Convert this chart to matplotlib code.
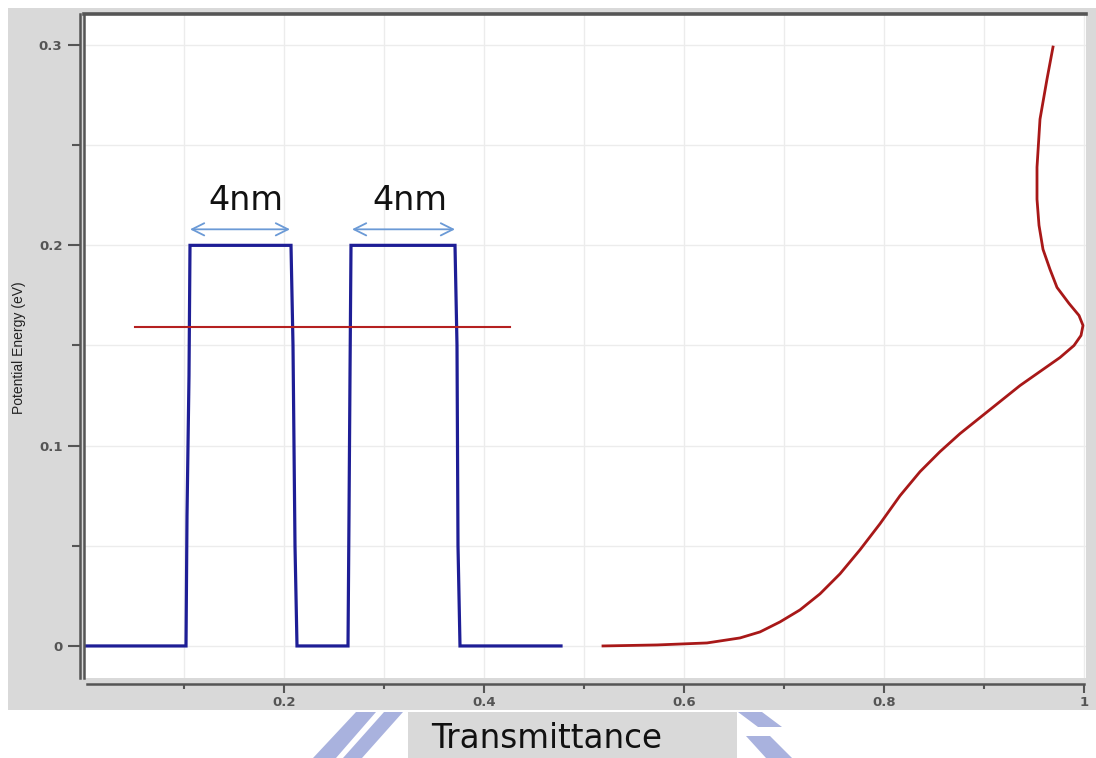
import matplotlib
matplotlib.use("Agg")
import matplotlib.pyplot as plt
from matplotlib.patches import Rectangle, Polygon
from matplotlib.ticker import FixedLocator, FixedFormatter

# Double-barrier potential profile (position, energy)
pot_x = [0.002, 0.102, 0.103, 0.105, 0.106, 0.207, 0.209, 0.211, 0.213,
         0.264, 0.265, 0.266, 0.267, 0.371, 0.373, 0.374, 0.376, 0.477]
pot_y = [0.0, 0.0, 0.065, 0.135, 0.2, 0.2, 0.15, 0.05, 0.0,
         0.0, 0.065, 0.135, 0.2, 0.2, 0.15, 0.05, 0.0, 0.0]

# Resonant level
level_x = [0.051, 0.426]
level_y = [0.159, 0.159]

# Transmittance versus energy
trans_t = [0.519, 0.573, 0.623, 0.656, 0.676, 0.696, 0.716, 0.736, 0.756, 0.776,
           0.796, 0.816, 0.836, 0.856, 0.876, 0.896, 0.916, 0.936, 0.956, 0.976,
           0.990, 0.997, 0.999, 0.995, 0.985, 0.973, 0.966, 0.959, 0.955, 0.953,
           0.953, 0.956, 0.963, 0.969]
trans_e = [0.0, 0.0005, 0.0015, 0.004, 0.007, 0.012, 0.018, 0.026, 0.036, 0.048,
           0.061, 0.075, 0.087, 0.097, 0.106, 0.114, 0.122, 0.130, 0.137, 0.144,
           0.150, 0.155, 0.160, 0.165, 0.171, 0.179, 0.188, 0.198, 0.210, 0.223,
           0.239, 0.263, 0.283, 0.299]

x_major = [0.2, 0.4, 0.6, 0.8, 1.0]
x_major_labels = ["0.2", "0.4", "0.6", "0.8", "1"]
x_minor = [0.1, 0.3, 0.5, 0.7, 0.9]
y_major = [0.0, 0.1, 0.2, 0.3]
y_major_labels = ["0", "0.1", "0.2", "0.3"]
y_minor = [0.05, 0.15, 0.25]

width_labels = ["4nm", "4nm"]
width_spans = [(0.106, 0.206), (0.268, 0.371)]

W, H = 1096, 758
fig = plt.figure(figsize=(W / 100, H / 100), dpi=100)
fig.patch.set_facecolor("white")


def fx(px):
    return px / W


def fy(py):
    return 1 - py / H


# Decorative emblem strokes below the panel
wm = "#a9b2de"
for pts in ([(313, 758), (336, 758), (376, 712), (356, 712)],
            [(343, 758), (362, 758), (403, 712), (384, 712)],
            [(738, 712), (762, 712), (782, 727), (758, 727)],
            [(746, 736), (770, 736), (792, 758), (766, 758)]):
    fig.patches.append(Polygon([(fx(a), fy(b)) for a, b in pts], closed=True,
                               transform=fig.transFigure, facecolor=wm,
                               edgecolor="none", zorder=-2))

# Gray panel behind the chart
fig.patches.append(Rectangle((fx(8), fy(710)), fx(1096) - fx(8), fy(8) - fy(710),
                             transform=fig.transFigure, facecolor="#d9d9d9",
                             edgecolor="none", zorder=-1))

# Axis title box
fig.patches.append(Rectangle((fx(408), fy(758)), fx(737) - fx(408), fy(712) - fy(758),
                             transform=fig.transFigure, facecolor="#d9d9d9",
                             edgecolor="none", zorder=-1))
fig.text(fx(547), fy(738), "Transmittance", ha="center", va="center",
         fontsize=23.5, color="#111111", family="DejaVu Sans")

ax = fig.add_axes([fx(84), fy(678), fx(1086) - fx(84), fy(14) - fy(678)])
ax.set_facecolor("white")
ax.set_xlim(0, 1.002)
ax.set_ylim(-0.016, 0.3155)

spine_c = "#555555"
ax.spines["right"].set_visible(False)
ax.spines["top"].set_color(spine_c)
ax.spines["top"].set_linewidth(2.6)
ax.spines["left"].set_color(spine_c)
ax.spines["left"].set_linewidth(1.8)
ax.spines["left"].set_position(("outward", 3))
ax.spines["bottom"].set_color(spine_c)
ax.spines["bottom"].set_linewidth(1.8)
ax.spines["bottom"].set_position(("outward", 4.5))
ax.spines["bottom"].set_bounds(0.003, 1.0)
ax.plot([0, 0], [0, 1], transform=ax.transAxes, color=spine_c, lw=1.8,
        clip_on=False, zorder=5)

ax.xaxis.set_major_locator(FixedLocator(x_major))
ax.xaxis.set_major_formatter(FixedFormatter(x_major_labels))
ax.xaxis.set_minor_locator(FixedLocator(x_minor))
ax.yaxis.set_major_locator(FixedLocator(y_major))
ax.yaxis.set_major_formatter(FixedFormatter(y_major_labels))
ax.yaxis.set_minor_locator(FixedLocator(y_minor))

ax.tick_params(axis="x", which="major", length=6.5, width=1.5, color=spine_c,
               pad=2, labelsize=9.5, labelcolor="#555555")
ax.tick_params(axis="x", which="minor", length=3.5, width=1.5, color=spine_c)
ax.tick_params(axis="y", which="major", length=8.5, width=1.5, color=spine_c,
               pad=4, labelsize=9.5, labelcolor="#555555")
ax.tick_params(axis="y", which="minor", length=5.5, width=1.5, color=spine_c)
for lab in ax.get_xticklabels() + ax.get_yticklabels():
    lab.set_fontweight("bold")

ax.grid(True, which="both", color="#ececec", lw=1.0, zorder=0)
ax.set_axisbelow(True)

fig.text(fx(19), fy(348), "Potential Energy (eV)", rotation=90, ha="center",
         va="center", fontsize=10, color="#222222", family="Liberation Sans")

ax.plot(pot_x, pot_y, color="#1e1e96", lw=2.3, solid_joinstyle="miter", zorder=3)
ax.plot(level_x, level_y, color="#b52020", lw=1.5, zorder=3)
ax.plot(trans_t, trans_e, color="#a81818", lw=2.0, zorder=3)

for (x0, x1), txt in zip(width_spans, width_labels):
    ax.annotate("", xy=(x0, 0.208), xytext=(x1, 0.208),
                arrowprops=dict(arrowstyle="<->", color="#6b9ad6", lw=1.3,
                                mutation_scale=22, shrinkA=0, shrinkB=0))
    ax.text((x0 + x1) / 2 + 0.006, 0.2225, txt, ha="center", va="center",
            fontsize=24, color="#111111", family="DejaVu Sans")

fig.savefig("out.png", dpi=100, facecolor="white")
